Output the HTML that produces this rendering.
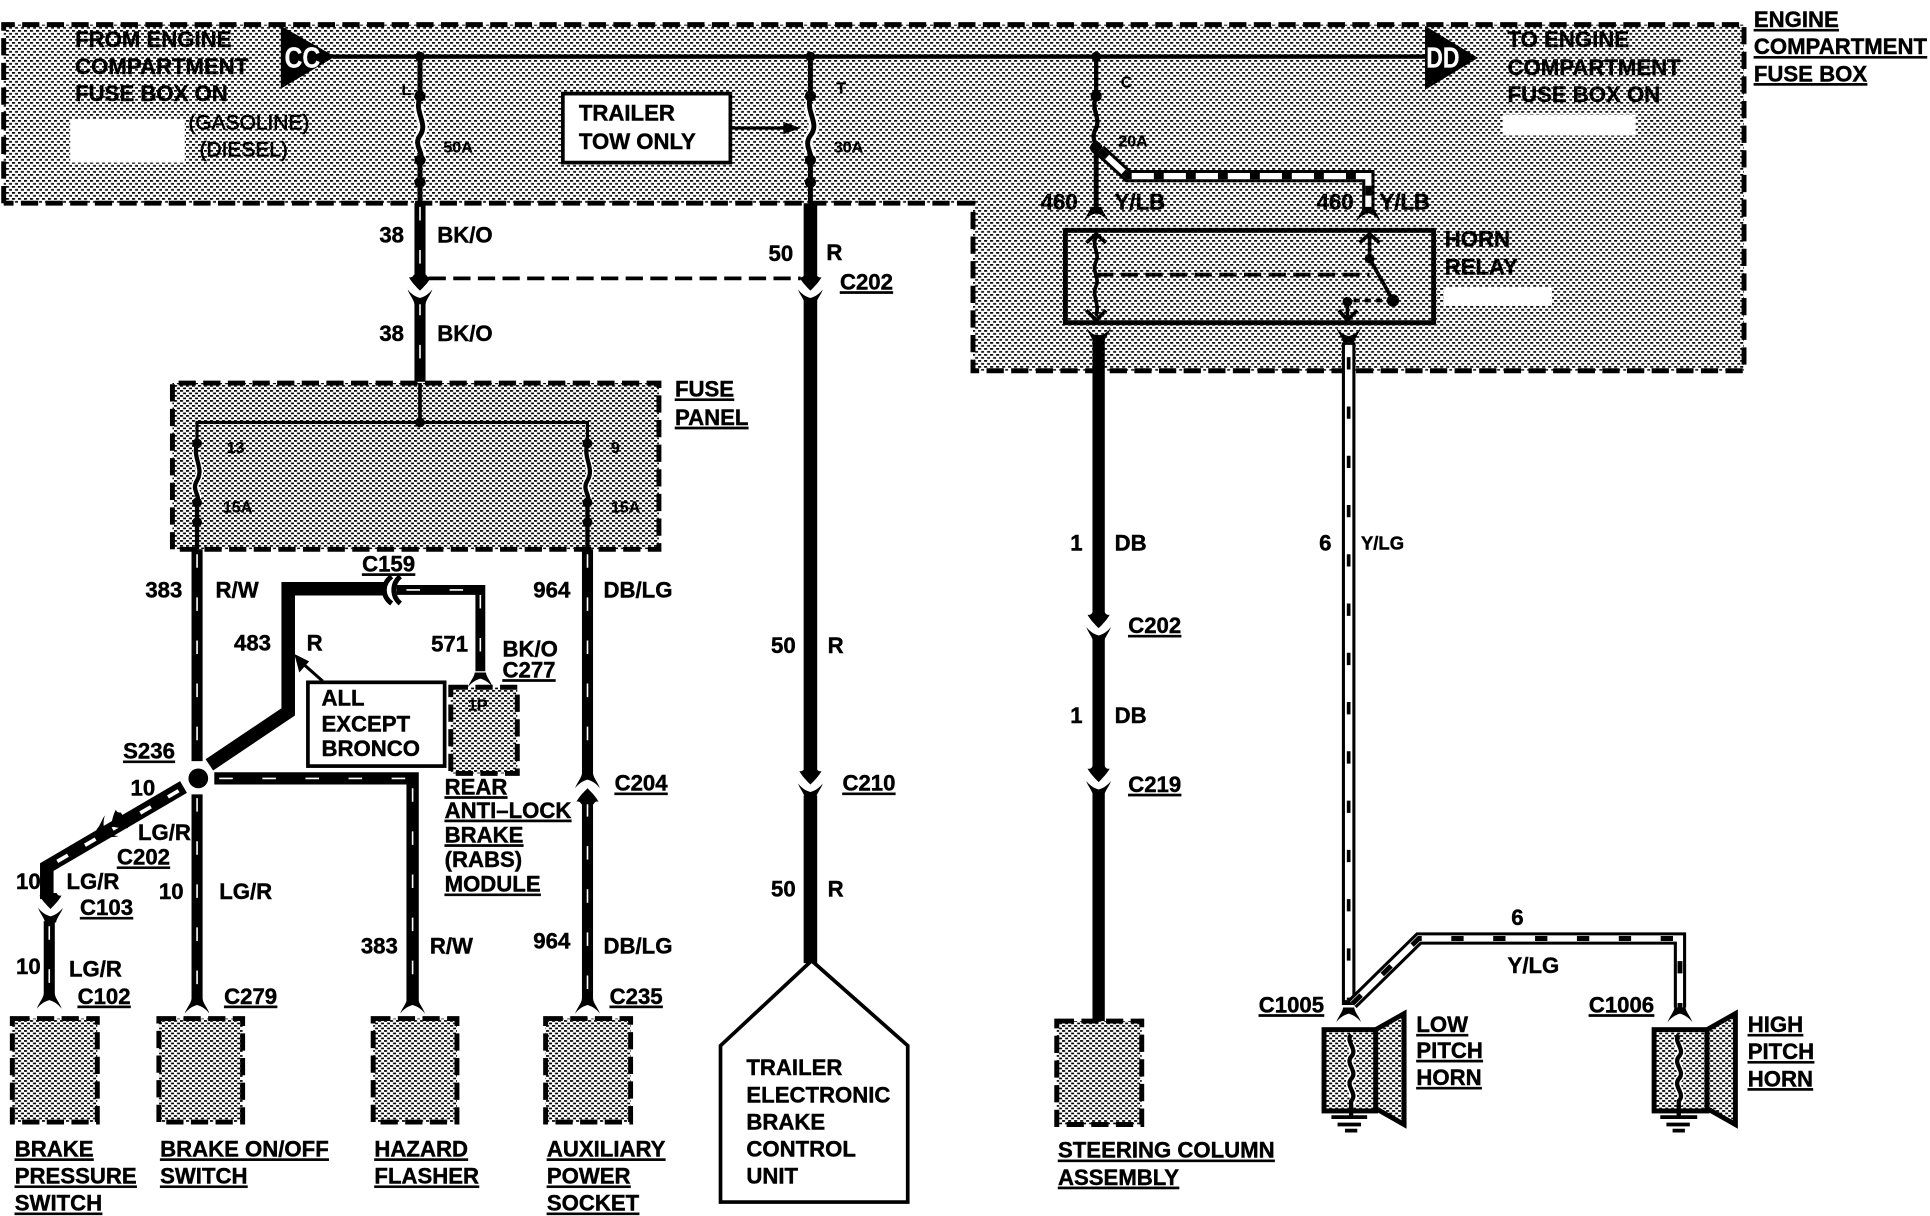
<!DOCTYPE html>
<html><head><meta charset="utf-8"><style>
html,body{margin:0;padding:0;background:#fff}
svg{display:block;position:absolute;left:0;top:0}
text{font-family:"Liberation Sans",sans-serif;font-weight:bold;font-size:18px;fill:#000;stroke:#000;stroke-width:.35px}
.u{text-decoration:underline}
.s{font-size:13px;stroke-width:.15px}
.w{fill:none;stroke:#000;stroke-linejoin:miter}
.h{fill:none;stroke:#fff;stroke-width:1.3;stroke-dasharray:11 24}
.d{fill:none;stroke:#000;stroke-width:4;stroke-dasharray:14 6}
</style></head><body>
<svg xmlns="http://www.w3.org/2000/svg" width="1930" height="1216" viewBox="0 0 1567 987.3" preserveAspectRatio="none">
<defs>
<pattern id="p1" patternUnits="userSpaceOnUse" width="6" height="6" patternTransform="scale(.812)"><rect width="6" height="6" fill="#fff"/><rect x="0" y="0" width="3" height="1.7"/><rect x="3" y="3" width="3" height="1.7"/></pattern>
<pattern id="p2" patternUnits="userSpaceOnUse" width="6" height="5" patternTransform="scale(.812)"><rect width="6" height="5" fill="#fff"/><rect x="0" y="0" width="3" height="1.7"/><rect x="3" y="2.5" width="3" height="1.7"/></pattern>
<path id="fd" d="M-10 6C-9 2-5-2-4.5-6L4.5-6C5-2 9 2 10 6C8 3 4 0 0-1C-4 0-8 3-10 6Z"/>
<path id="fu" d="M-10-6C-9-2-5 2-4.5 6L4.5 6C5 2 9-2 10-6C8-3 4 0 0 1C-4 0-8-3-10-6Z"/>
<path id="ar" d="M-9-6C-6-5-5-8-5-8L5-8C5-8 6-5 9-6C7-2 3 2 0 5C-3 2-7-2-9-6Z"/>
</defs>

<!-- engine box -->
<path d="M3 20H1416V301H790V165H3Z" fill="url(#p1)"/>
<path class="d" d="M3 165V20H1416V301H790V165H3"/>
<rect x="57" y="97" width="93" height="35" fill="#fff"/>
<rect x="1220" y="93" width="108" height="17" fill="#fff"/>
<rect x="1172" y="233" width="88" height="15" fill="#fff"/>
<!-- fuse panel -->
<path d="M140 311H535V446H140Z" fill="url(#p2)"/>
<path class="d" d="M140 446V311H535V446Z"/>

<!-- main bus -->
<path class="w" stroke-width="3.5" d="M270 46H1160"/>
<path d="M228 21L272 46L228 72Z"/><path d="M1157 21L1200 47L1157 73Z"/>
<text x="231" y="55" textLength="29" lengthAdjust="spacingAndGlyphs" style="fill:#fff;stroke:#fff;stroke-width:.2px;font-size:23px">CC</text>
<text x="1158" y="55" textLength="27" lengthAdjust="spacingAndGlyphs" style="fill:#fff;stroke:#fff;stroke-width:.2px;font-size:23px">DD</text>

<!-- fuses top -->
<g class="w" fill="none" stroke="#000">
<path stroke="#fff" stroke-width="8" style="stroke:#fff" d="M341 84C336 92 348 100 341 110C335 118 345 124 341 126"/>
<path stroke-width="4" d="M341 46V78C336 92 348 100 341 110C335 118 345 124 341 130V165"/>
<path stroke-width="8" style="stroke:#fff" d="M658 84C654 92 666 100 658 110C652 118 660 124 658 126"/>
<path stroke-width="4" d="M658 46V78C654 92 666 100 658 110C652 118 660 124 658 130V165"/>
<path stroke-width="3.5" d="M890 46V78C885 90 895 96 889 106C886 112 890 116 890 120"/>
</g>
<g>
<circle cx="341" cy="46" r="4"/><circle cx="341" cy="78" r="4.5"/><circle cx="341" cy="130" r="4.5"/><circle cx="341" cy="148" r="4.5"/>
<circle cx="658" cy="46" r="4"/><circle cx="658" cy="78" r="4.5"/><circle cx="658" cy="130" r="4.5"/><circle cx="658" cy="148" r="4.5"/>
<circle cx="890" cy="46" r="4"/><circle cx="890" cy="78" r="4.5"/><circle cx="890" cy="120" r="5"/>
</g>
<text class="s" x="326" y="77">L</text><text class="s" x="360" y="124">50A</text>
<text class="s" x="679" y="76">T</text><text class="s" x="677" y="124">30A</text>
<text class="s" x="910" y="71">C</text><text class="s" x="908" y="119">20A</text>

<!-- trailer tow box -->
<rect x="457" y="76" width="136" height="56" fill="#fff" stroke="#000" stroke-width="3"/>
<text x="470" y="98">TRAILER</text><text x="470" y="121">TOW ONLY</text>
<path class="w" stroke-width="2.5" d="M593 104H640"/><path d="M636 99L650 104L636 109Z"/>

<!-- 38 BK/O -->
<path class="w" stroke-width="9" d="M341 165V226M341 244V310"/>
<path class="h" d="M341 168V222M341 245V305"/>
<use href="#ar" x="341" y="231"/><use href="#fu" x="341" y="241"/>
<path class="w" stroke-width="3" stroke-dasharray="14 6" d="M348 226H650"/>
<path class="w" stroke-width="3" d="M341 311V343"/>

<!-- 50 R -->
<path class="w" stroke-width="11" d="M658 165V226M658 244V628M658 646V782"/>
<use href="#ar" x="658" y="231"/><use href="#fu" x="658" y="241"/>
<use href="#ar" x="658" y="632"/><use href="#fu" x="658" y="642"/>
<path d="M659 780L737 849V976H585V849Z" fill="#fff" stroke="#000" stroke-width="3"/>
<text x="606" y="873">TRAILER</text><text x="606" y="895">ELECTRONIC</text><text x="606" y="917">BRAKE</text><text x="606" y="939">CONTROL</text><text x="606" y="961">UNIT</text>

<!-- relay feed -->
<path class="w" stroke-width="4" d="M890 120V172"/>
<path class="w" stroke-width="10" d="M893 122L916 143H1111V172"/>
<path class="w" stroke-width="5" style="stroke:#fff" d="M893 122L916 143H1111V172"/>
<path class="w" stroke-width="5" stroke-dasharray="8 18" d="M893 122L916 143H1111V172"/>
<use href="#fd" x="890" y="174"/><use href="#fd" x="1111" y="174"/>

<!-- relay -->
<rect x="865" y="187" width="299" height="75" fill="none" stroke="#000" stroke-width="4"/>
<path class="w" stroke-width="3" d="M890 192C886 200 893 206 890 212C886 220 893 226 890 232C886 240 893 246 890 256"/>
<path class="w" stroke-width="3" stroke-dasharray="14 6" d="M890 223H1112"/>
<path class="w" stroke-width="3" d="M1112 192V210L1131 244"/>
<path class="w" stroke-width="3" stroke-dasharray="5 4" d="M1131 244H1094"/>
<path class="w" stroke-width="3" d="M1094 245V258"/>
<circle cx="1112" cy="210" r="4"/><circle cx="1131" cy="244" r="5"/><circle cx="1094" cy="245" r="4"/>
<path class="w" stroke-width="3" d="M882 197L890 190L898 197M1104 197L1112 190L1120 197M882 252L890 260L898 252M1087 252L1094 260L1102 252"/>

<!-- DB wire -->
<path class="w" stroke-width="10" d="M892 272V500M892 518V626M892 644V830"/>
<use href="#fu" x="892" y="272"/>
<use href="#ar" x="892" y="505"/><use href="#fu" x="892" y="515"/>
<use href="#ar" x="892" y="630"/><use href="#fu" x="892" y="640"/>

<!-- Y/LG wire -->
<use href="#fu" x="1095" y="272"/>
<path class="w" stroke-width="11" d="M1095 278V816"/>
<path class="w" stroke-width="6" style="stroke:#fff" d="M1095 280V812"/>
<path class="w" stroke-width="3" stroke-dasharray="10 30" d="M1095 290V812"/>

<path class="w" stroke-width="10" d="M1098 815L1152 762H1364V818"/>
<path class="w" stroke-width="5" style="stroke:#fff" d="M1098 815L1152 762H1364V818"/>
<path class="w" stroke-width="4" stroke-dasharray="10 24" d="M1098 815L1152 762H1364V818"/>
<use href="#fd" x="1095" y="824"/><use href="#fd" x="1364" y="824"/>

<!-- horns -->
<g stroke="#000" stroke-width="4">
<rect x="1075" y="836" width="42" height="66" fill="url(#p2)"/>
<path d="M1117 836L1140 823V913L1117 900Z" fill="url(#p2)"/>
<rect x="1343" y="836" width="43" height="66" fill="url(#p2)"/>
<path d="M1386 836L1409 823V913L1386 900Z" fill="url(#p2)"/>
</g>
<path class="w" stroke-width="6" style="stroke:#fff" d="M1097 844C1092 846 1103 852 1097 858C1092 864 1103 870 1097 876C1092 882 1103 888 1097 896"/>
<path class="w" stroke-width="6" style="stroke:#fff" d="M1363 844C1358 846 1369 852 1363 858C1358 864 1369 870 1363 876C1358 882 1369 888 1363 896"/>
<path class="w" stroke-width="3.5" d="M1097 840C1092 846 1103 852 1097 858C1092 864 1103 870 1097 876C1092 882 1103 888 1097 894V906"/>
<path class="w" stroke-width="3.5" d="M1363 840C1358 846 1369 852 1363 858C1358 864 1369 870 1363 876C1358 882 1369 888 1363 894V906"/>
<path class="w" stroke-width="3" d="M1081 907H1110M1086 913H1105M1092 918H1102M1348 907H1378M1353 913H1372M1358 918H1368"/>

<!-- fuse panel inner -->
<path class="w" stroke-width="2.5" d="M160 360V343H477V360"/>
<circle cx="341" cy="343" r="4"/>
<g>
<path class="w" stroke-width="6" style="stroke:#fff" d="M160 366C156 372 166 380 160 390C155 398 163 402 160 404"/>
<path class="w" stroke-width="6" style="stroke:#fff" d="M477 366C473 372 483 380 477 390C472 398 480 402 477 404"/>
<path class="w" stroke-width="3.5" d="M160 360C156 372 166 380 160 390C155 398 163 402 160 408V446"/>
<path class="w" stroke-width="3.5" d="M477 360C473 372 483 380 477 390C472 398 480 402 477 408V446"/>
<circle cx="160" cy="360" r="4"/><circle cx="160" cy="408" r="4"/><circle cx="160" cy="424" r="4"/>
<circle cx="477" cy="360" r="4"/><circle cx="477" cy="408" r="4"/><circle cx="477" cy="424" r="4"/>
</g>
<text class="s" x="184" y="368">13</text><text class="s" x="181" y="416">15A</text>
<text class="s" x="496" y="368">9</text><text class="s" x="496" y="416">15A</text>

<!-- R/W + LG/R left trunk -->
<path class="w" stroke-width="9" d="M160 446V618M160 645V812"/>
<path class="h" d="M160 450V616M160 648V805"/>
<use href="#fd" x="160" y="817"/>
<!-- DB/LG -->
<path class="w" stroke-width="9" d="M477 446V630M477 648V812"/>
<path class="h" d="M477 450V625M477 652V805"/>
<use href="#fd" x="477" y="634"/><use href="#ar" x="477" y="645" transform="rotate(180 477 645)"/>
<use href="#fd" x="477" y="817"/>
<!-- 483/571 -->
<path class="w" stroke-width="11" d="M170 621L234 578V478H312"/>
<path class="w" stroke-width="8" d="M322 479H390V545"/>
<path class="h" d="M330 479H386M390 483V545"/>
<path class="w" stroke-width="4" d="M318 468C310 474 310 484 318 490M325 468C318 474 318 484 325 490"/>
<use href="#fd" x="390" y="552"/>
<!-- all except bronco -->
<path class="w" stroke-width="2.5" d="M262 553L245 538"/><path d="M239 531L251 537L243 546Z"/>
<rect x="250" y="554" width="111" height="68" fill="#fff" stroke="#000" stroke-width="3"/>
<text x="261" y="573">ALL</text><text x="261" y="594">EXCEPT</text><text x="261" y="614">BRONCO</text>
<!-- RABS -->
<rect x="366" y="558" width="54" height="70" fill="url(#p2)"/>
<rect class="d" x="366" y="558" width="54" height="70"/>
<text class="s" x="380" y="577">1P</text>

<!-- S236 -->
<circle cx="161" cy="632" r="8"/>
<path class="w" stroke-width="10" d="M174 632H335V814"/>
<path class="h" d="M178 632H330M335 640V810"/>
<use href="#fd" x="335" y="817"/>
<path class="w" stroke-width="11" d="M149 639L38 704V730"/>
<path class="w" stroke-width="3" stroke-dasharray="10 16" style="stroke:#fff" d="M145 642L42 702"/>
<g transform="translate(90 671) rotate(56)"><use href="#ar" x="0" y="-5"/><use href="#fu" x="0" y="5"/></g>
<use href="#ar" x="41" y="733"/><use href="#fu" x="41" y="743"/>
<path class="w" stroke-width="9" d="M40 748V808"/><path class="h" d="M40 752V805"/>
<use href="#fd" x="40" y="813"/>

<!-- terminal boxes -->
<g>
<rect x="10" y="827" width="69" height="84" fill="url(#p2)"/><rect class="d" x="10" y="827" width="69" height="84"/>
<rect x="129" y="827" width="68" height="84" fill="url(#p2)"/><rect class="d" x="129" y="827" width="68" height="84"/>
<rect x="303" y="827" width="68" height="84" fill="url(#p2)"/><rect class="d" x="303" y="827" width="68" height="84"/>
<rect x="443" y="827" width="69" height="84" fill="url(#p2)"/><rect class="d" x="443" y="827" width="69" height="84"/>
<rect x="858" y="829" width="69" height="84" fill="url(#p2)"/><rect class="d" x="858" y="829" width="69" height="84"/>
</g>

<!-- labels top -->
<text x="61" y="38">FROM ENGINE</text><text x="61" y="60">COMPARTMENT</text><text x="61" y="82">FUSE BOX ON</text>
<text x="153" y="105" style="font-weight:normal;stroke-width:.5px;font-size:17px">(GASOLINE)</text><text x="162" y="127" style="font-weight:normal;stroke-width:.5px;font-size:17px">(DIESEL)</text>
<text x="1224" y="38">TO ENGINE</text><text x="1224" y="61">COMPARTMENT</text><text x="1224" y="83">FUSE BOX ON</text>
<text class="u" x="1424" y="22">ENGINE</text><text class="u" x="1424" y="44">COMPARTMENT</text><text class="u" x="1424" y="66">FUSE BOX</text>
<text x="845" y="170">460</text><text x="905" y="170">Y/LB</text><text x="1069" y="170">460</text><text x="1120" y="170">Y/LB</text>
<text x="1173" y="200">HORN</text><text x="1173" y="223">RELAY</text>
<text x="308" y="197">38</text><text x="355" y="197">BK/O</text><text x="308" y="277">38</text><text x="355" y="277">BK/O</text>
<text x="624" y="212">50</text><text x="671" y="211">R</text><text class="u" x="682" y="235">C202</text>
<text class="u" x="548" y="322">FUSE</text><text class="u" x="548" y="345">PANEL</text>
<!-- mid labels -->
<text x="118" y="485">383</text><text x="175" y="485">R/W</text><text class="u" x="294" y="464">C159</text>
<text x="433" y="485">964</text><text x="490" y="485">DB/LG</text>
<text x="190" y="528">483</text><text x="249" y="528">R</text><text x="350" y="529">571</text>
<text x="408" y="533">BK/O</text><text class="u" x="408" y="550">C277</text>
<text class="u" x="100" y="616">S236</text><text x="106" y="646">10</text>
<text x="112" y="682">LG/R</text><text class="u" x="95" y="702">C202</text>
<text x="13" y="722">10</text><text x="54" y="722">LG/R</text><text class="u" x="65" y="743">C103</text>
<text x="129" y="730">10</text><text x="178" y="730">LG/R</text>
<text x="13" y="791">10</text><text x="56" y="793">LG/R</text><text class="u" x="63" y="815">C102</text>
<text class="u" x="182" y="815">C279</text><text x="293" y="774">383</text><text x="349" y="774">R/W</text>
<text x="433" y="770">964</text><text x="490" y="774">DB/LG</text><text class="u" x="495" y="815">C235</text><text class="u" x="499" y="642">C204</text>
<text class="u" x="361" y="645">REAR</text><text class="u" x="361" y="664">ANTI–LOCK</text><text class="u" x="361" y="684">BRAKE</text>
<text x="361" y="704">(RABS)</text><text class="u" x="361" y="724">MODULE</text>
<text x="626" y="530">50</text><text x="672" y="530">R</text><text class="u" x="684" y="642">C210</text>
<text x="626" y="728">50</text><text x="672" y="728">R</text>
<text x="869" y="447">1</text><text x="905" y="447">DB</text><text class="u" x="916" y="514">C202</text>
<text x="869" y="587">1</text><text x="905" y="587">DB</text><text class="u" x="916" y="643">C219</text>
<text x="1071" y="447">6</text><text x="1105" y="446" style="font-size:15px">Y/LG</text>
<text x="1227" y="751">6</text><text x="1224" y="790">Y/LG</text>
<text class="u" x="1022" y="822">C1005</text><text class="u" x="1290" y="822">C1006</text>
<text class="u" x="1150" y="838">LOW</text><text class="u" x="1150" y="859">PITCH</text><text class="u" x="1150" y="881">HORN</text>
<text class="u" x="1419" y="838">HIGH</text><text class="u" x="1419" y="860">PITCH</text><text class="u" x="1419" y="882">HORN</text>
<!-- bottom -->
<text class="u" x="12" y="939">BRAKE</text><text class="u" x="12" y="961">PRESSURE</text><text class="u" x="12" y="983">SWITCH</text>
<text class="u" x="130" y="939">BRAKE ON/OFF</text><text class="u" x="130" y="961">SWITCH</text>
<text class="u" x="304" y="939">HAZARD</text><text class="u" x="304" y="961">FLASHER</text>
<text class="u" x="444" y="939">AUXILIARY</text><text class="u" x="444" y="961">POWER</text><text class="u" x="444" y="983">SOCKET</text>
<text class="u" x="859" y="940">STEERING COLUMN</text><text class="u" x="859" y="962">ASSEMBLY</text>
</svg>
</body></html>
